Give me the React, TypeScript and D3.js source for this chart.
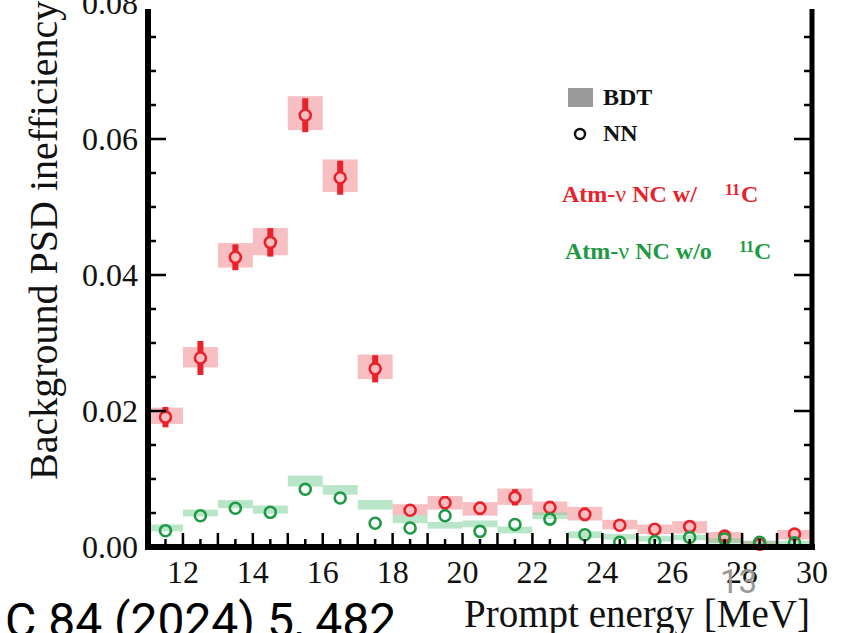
import React from 'react';
import * as d3 from 'd3';

// bin centres in MeV
const energy = [11.5, 12.5, 13.5, 14.5, 15.5, 16.5, 17.5, 18.5, 19.5, 20.5, 21.5, 22.5, 23.5, 24.5, 25.5, 26.5, 27.5, 28.5, 29.5];

// Atm-nu NC with 11C
const nnWith = [0.0191, 0.0278, 0.0426, 0.0448, 0.0635, 0.0543, 0.0262, 0.0054, 0.0065, 0.0057, 0.0073, 0.0058, 0.0048, 0.0032, 0.0026, 0.003, 0.0016, 0.0004, 0.0019];
const nnWithErr = [0.0015, 0.0025, 0.0019, 0.0021, 0.0025, 0.0025, 0.002, 0.0008, 0.001, 0.001, 0.0012, 0.001, 0.001, 0.0006, 0.0006, 0.0006, 0.0005, 0.0003, 0.0004];
const bdtWith = [0.0193, 0.0279, 0.0429, 0.0449, 0.0638, 0.0546, 0.0265, 0.0055, 0.0065, 0.0056, 0.0074, 0.0057, 0.0049, 0.0033, 0.0026, 0.0029, 0.0014, 0.0006, 0.0018];
const bdtWithErr = [0.0012, 0.0015, 0.0018, 0.002, 0.0025, 0.0024, 0.0018, 0.0008, 0.001, 0.001, 0.0012, 0.001, 0.001, 0.0007, 0.0007, 0.0009, 0.0008, 0.0003, 0.0007];

// Atm-nu NC without 11C
const nnWithout = [0.0024, 0.0046, 0.0057, 0.0051, 0.0085, 0.0072, 0.0035, 0.0028, 0.0046, 0.0023, 0.0033, 0.0041, 0.0018, 0.0007, 0.0008, 0.0014, 0.0012, 0.0007, 0.0006];
const bdtWithout = [0.0028, 0.005, 0.0063, 0.0055, 0.0097, 0.0084, 0.0062, 0.0041, 0.0032, 0.0034, 0.0025, 0.0046, 0.0018, 0.0015, 0.0012, 0.0014, 0.0009, 0.0006, 0.0006];
const bdtWithoutErr = [0.0005, 0.0005, 0.0006, 0.0006, 0.0008, 0.0007, 0.0007, 0.0006, 0.0005, 0.0005, 0.0005, 0.0005, 0.0005, 0.0004, 0.0004, 0.0004, 0.0004, 0.0003, 0.0003];

const xTickLabels = [12, 14, 16, 18, 20, 22, 24, 26, 28, 30];
const yTickLabels = [0, 0.02, 0.04, 0.06, 0.08];

const RED = '#e8222b';
const RED_FILL = '#f08a90';
const GREEN = '#1f9a44';
const GREEN_FILL = '#7fcf9a';
const SERIF = '"Liberation Serif", "Times New Roman", serif';

export default function App() {
  const x = d3.scaleLinear().domain([11, 30]).range([148, 812]);
  const y = d3.scaleLinear().domain([0, 0.08]).range([547, 3]);
  const top = 9;
  const bw = x(12) - x(11);
  const r = 5.5;

  // ticks above the cropped top edge are not shown
  const yMinor = d3.range(0, 0.0801, 0.005).filter((v) => y(v) > top);
  const xMinor = d3.range(11, 30.01, 0.5);

  return (
    <svg width={856} height={633} style={{ position: 'absolute', left: 0, top: 0, background: '#fff' }}>
      {/* BDT boxes */}
      {energy.map((e, i) => (
        <rect key={'bw' + i} x={x(e - 0.5)} width={bw}
          y={y(bdtWith[i] + bdtWithErr[i])} height={y(bdtWith[i] - bdtWithErr[i]) - y(bdtWith[i] + bdtWithErr[i])}
          fill={RED_FILL} fillOpacity={0.55} />
      ))}
      {energy.map((e, i) => (
        <rect key={'bo' + i} x={x(e - 0.5)} width={bw}
          y={y(bdtWithout[i] + bdtWithoutErr[i])} height={y(bdtWithout[i] - bdtWithoutErr[i]) - y(bdtWithout[i] + bdtWithoutErr[i])}
          fill={GREEN_FILL} fillOpacity={0.55} />
      ))}

      {/* NN error bars, stopping at the marker */}
      {energy.map((e, i) => {
        const cy = y(nnWith[i]);
        const hi = y(nnWith[i] + nnWithErr[i]);
        const lo = y(nnWith[i] - nnWithErr[i]);
        return (
          <g key={'eb' + i} stroke={RED} strokeWidth={6}>
            {cy - r > hi && <line x1={x(e)} x2={x(e)} y1={hi} y2={cy - r} />}
            {lo > cy + r && <line x1={x(e)} x2={x(e)} y1={cy + r} y2={lo} />}
          </g>
        );
      })}
      {energy.map((e, i) => (
        <circle key={'nw' + i} cx={x(e)} cy={y(nnWith[i])} r={r} fill="none" stroke={RED} strokeWidth={2.6} />
      ))}
      {energy.map((e, i) => (
        <circle key={'no' + i} cx={x(e)} cy={y(nnWithout[i])} r={r} fill="none" stroke={GREEN} strokeWidth={2.6} />
      ))}

      {/* frame */}
      <g stroke="#000">
        <line x1={148} x2={148} y1={top} y2={550} strokeWidth={6} />
        <line x1={812} x2={812} y1={top} y2={550} strokeWidth={5} />
        <line x1={145} x2={815} y1={547} y2={547} strokeWidth={6} />
        {yMinor.map((v, i) => {
          const major = i % 4 === 0;
          const len = major ? 18 : 8;
          return (
            <g key={'yt' + i} strokeWidth={2.5}>
              <line x1={148} x2={148 + len} y1={y(v)} y2={y(v)} />
              <line x1={812} x2={812 - len} y1={y(v)} y2={y(v)} />
            </g>
          );
        })}
        {xMinor.map((v, i) => (
          <line key={'xt' + i} x1={x(v)} x2={x(v)} y1={547} y2={547 - (Number.isInteger(v) ? 14 : 8)} strokeWidth={2.5} />
        ))}
      </g>

      {/* tick labels */}
      <g fontFamily={SERIF} fontSize={32} fill="#111">
        {yTickLabels.map((v) => (
          <text key={'yl' + v} x={138} y={y(v)} dy="0.35em" textAnchor="end">{v.toFixed(2)}</text>
        ))}
        {xTickLabels.map((v) => (
          <text key={'xl' + v} x={x(v)} y={583} textAnchor="middle">{v}</text>
        ))}
      </g>

      {/* axis titles */}
      <text transform="translate(57,480) rotate(-90)" fontFamily={SERIF} fontSize={40} fill="#111">Background PSD inefficiency</text>
      <text x={810} y={627} textAnchor="end" fontFamily={SERIF} fontSize={39} fill="#111">Prompt energy [MeV]</text>

      {/* legend */}
      <g fontFamily={SERIF} fontWeight="bold" fontSize={24}>
        <rect x={568} y={88} width={25} height={19} fill="#9a9a9a" />
        <text x={603} y={105} fill="#111">BDT</text>
        <circle cx={580} cy={134} r={5} fill="none" stroke="#111" strokeWidth={2.5} />
        <text x={603} y={141} fill="#111">NN</text>

        <text x={562} y={202} fill={RED}>Atm-<tspan fontWeight="normal">ν</tspan> NC w/</text>
        <text x={725} y={195} fill={RED} fontSize={16}>11</text>
        <text x={741} y={202} fill={RED}>C</text>

        <text x={565} y={259} fill={GREEN}>Atm-<tspan fontWeight="normal">ν</tspan> NC w/o</text>
        <text x={739} y={252} fill={GREEN} fontSize={16}>11</text>
        <text x={754} y={259} fill={GREEN}>C</text>
      </g>

      {/* slide overlays */}
      <text x={720} y={593} fontFamily="Roboto, sans-serif" fontSize={33} fill="#999">13</text>
      <text x={5} y={637} fontFamily="Roboto, sans-serif" fontSize={48} fill="#000">C 84 (2024) 5, 482</text>
    </svg>
  );
}
